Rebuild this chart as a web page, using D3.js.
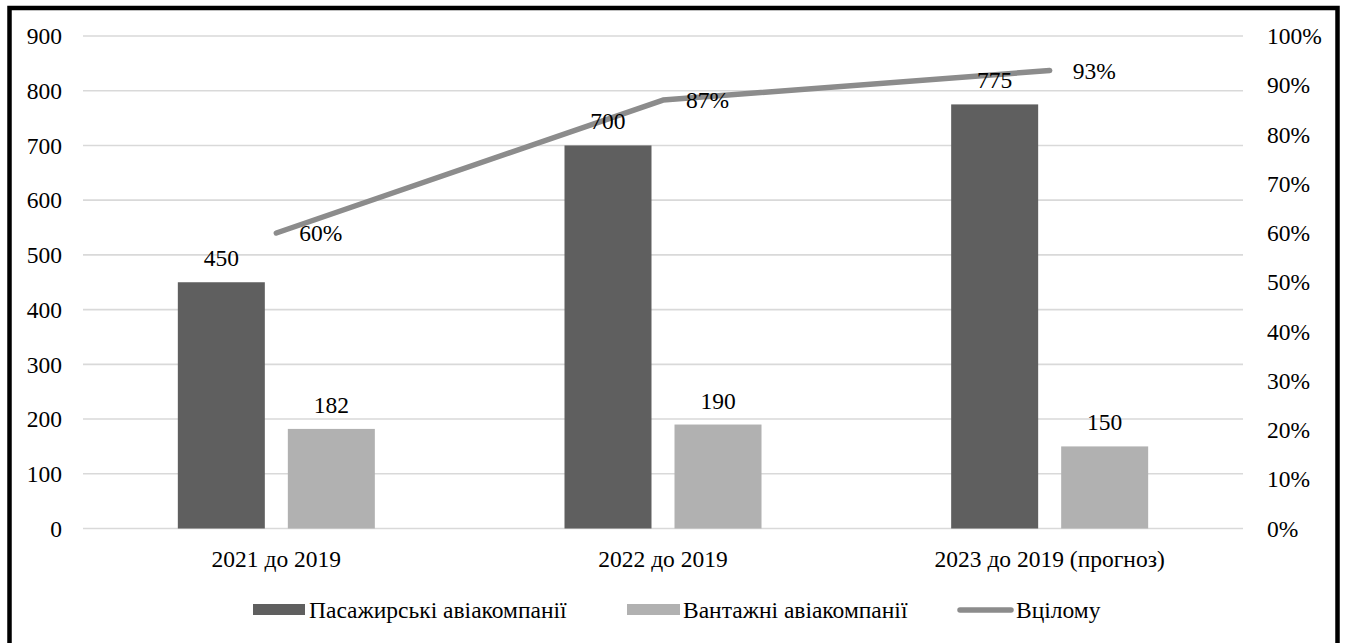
<!DOCTYPE html>
<html>
<head>
<meta charset="utf-8">
<script src="https://cdn.jsdelivr.net/npm/d3@7"></script>
</head>
<body style="margin:0;padding:0;background:#fff;">
<svg id="chart" width="1346" height="643"></svg>
<script>
const categories = ["2021 до 2019", "2022 до 2019", "2023 до 2019 (прогноз)"];
const passenger = [450, 700, 775];
const cargo = [182, 190, 150];
const total = [0.60, 0.87, 0.93];
const leftTicks = [0, 100, 200, 300, 400, 500, 600, 700, 800, 900];
const rightTicks = [0, 0.1, 0.2, 0.3, 0.4, 0.5, 0.6, 0.7, 0.8, 0.9, 1.0];
const seriesNames = ["Пасажирські авіакомпанії", "Вантажні авіакомпанії", "Вцілому"];

const colors = {dark: "#5f5f5f", light: "#b1b1b1", line: "#8c8c8c", grid: "#d9d9d9"};
const FONT = "Liberation Serif";
const FS = 23.5;

const svg = d3.select("#chart");

function txt(parent) {
  return parent.append("text").attr("font-family", FONT).attr("font-size", FS).attr("fill", "#000");
}

// frame
svg.append("rect").attr("x", 9.5).attr("y", 8).attr("width", 1328).attr("height", 700)
  .attr("fill", "none").attr("stroke", "#000").attr("stroke-width", 4.5);

const x = d3.scaleBand().domain(categories).range([83, 1243]).paddingInner(0).paddingOuter(0);
const yL = d3.scaleLinear().domain([0, 900]).range([528.5, 36]);
const yR = d3.scaleLinear().domain([0, 1]).range([528.5, 36]);

// gridlines
svg.append("g").selectAll("line").data(leftTicks).join("line")
  .attr("x1", 83).attr("x2", 1243)
  .attr("y1", d => yL(d)).attr("y2", d => yL(d))
  .attr("stroke", colors.grid).attr("stroke-width", 1.6);

// left tick labels
leftTicks.forEach(t => {
  txt(svg).attr("x", 62).attr("y", yL(t)).attr("dy", "0.35em").attr("text-anchor", "end").text(d3.format("d")(t));
});
// right tick labels
rightTicks.forEach(t => {
  txt(svg).attr("x", 1267).attr("y", yR(t)).attr("dy", "0.35em").text(d3.format(".0%")(t));
});

const bw = x.bandwidth();
const barW = bw * 0.225;
const gap = bw * 0.0595;
const cx = c => x(c) + bw / 2;

// category labels
categories.forEach(c => {
  txt(svg).attr("x", cx(c)).attr("y", 567).attr("text-anchor", "middle").text(c);
});

// bars
svg.append("g").selectAll("rect").data(categories).join("rect")
  .attr("x", c => cx(c) - gap / 2 - barW).attr("width", barW)
  .attr("y", (c, i) => yL(passenger[i])).attr("height", (c, i) => yL(0) - yL(passenger[i]))
  .attr("fill", colors.dark);
svg.append("g").selectAll("rect").data(categories).join("rect")
  .attr("x", c => cx(c) + gap / 2).attr("width", barW)
  .attr("y", (c, i) => yL(cargo[i])).attr("height", (c, i) => yL(0) - yL(cargo[i]))
  .attr("fill", colors.light);

// line
const line = d3.line().x((d, i) => cx(categories[i])).y(d => yR(d));
svg.append("path").datum(total).attr("d", line)
  .attr("fill", "none").attr("stroke", colors.line).attr("stroke-width", 5.5)
  .attr("stroke-linecap", "round").attr("stroke-linejoin", "round");

// data labels
categories.forEach((c, i) => {
  txt(svg).attr("x", cx(c) - gap / 2 - barW / 2).attr("y", yL(passenger[i]) - 16)
    .attr("text-anchor", "middle").text(passenger[i]);
  txt(svg).attr("x", cx(c) + gap / 2 + barW / 2).attr("y", yL(cargo[i]) - 16)
    .attr("text-anchor", "middle").text(cargo[i]);
  txt(svg).attr("x", cx(c) + 23).attr("y", yR(total[i])).attr("dy", "0.35em")
    .text(d3.format(".0%")(total[i]));
});

// legend
svg.append("rect").attr("x", 253).attr("y", 604).attr("width", 52).attr("height", 11).attr("fill", colors.dark);
txt(svg).attr("x", 309).attr("y", 618).text(seriesNames[0]);
svg.append("rect").attr("x", 627).attr("y", 604).attr("width", 53).attr("height", 11).attr("fill", colors.light);
txt(svg).attr("x", 683).attr("y", 618).text(seriesNames[1]);
svg.append("line").attr("x1", 960).attr("x2", 1011).attr("y1", 610).attr("y2", 610)
  .attr("stroke", colors.line).attr("stroke-width", 5.5).attr("stroke-linecap", "round");
txt(svg).attr("x", 1016).attr("y", 618).text(seriesNames[2]);
</script>
</body>
</html>
